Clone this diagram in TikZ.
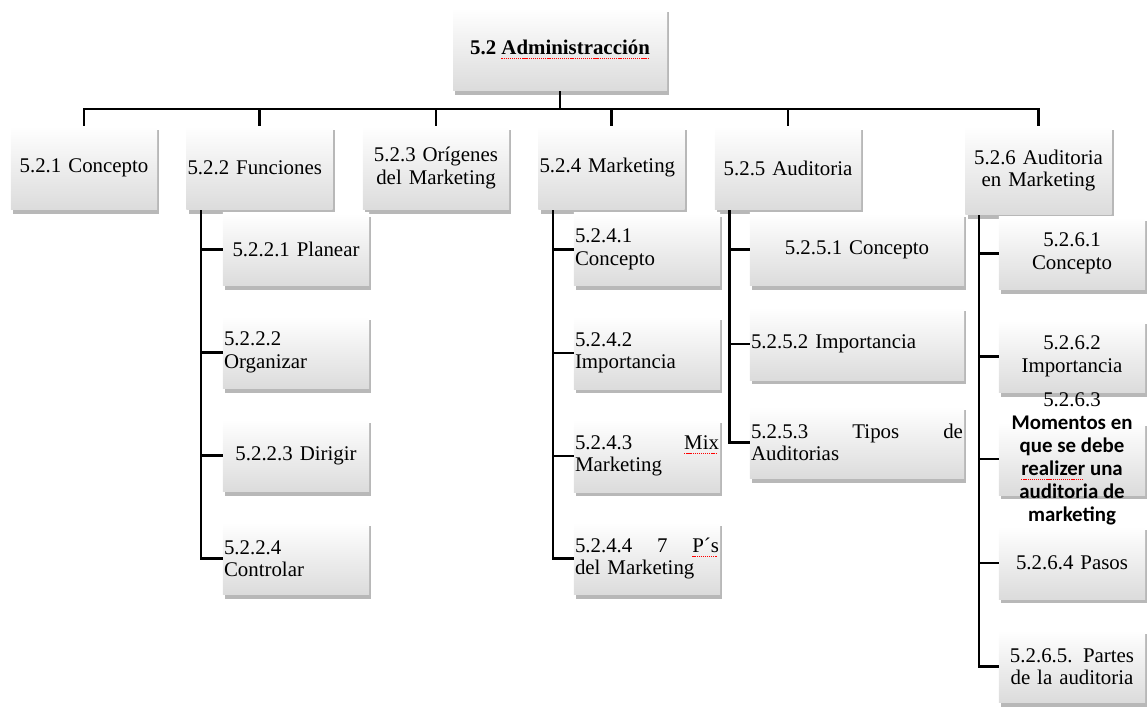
\documentclass[tikz,border=0pt]{standalone}
\usepackage{fontspec}
\setmainfont{Liberation Serif}
\newfontfamily\carlito{Carlito}
\usetikzlibrary{shadows}
\hyphenpenalty=10000
\tolerance=10000

\newcommand{\px}{0.575pt}
\newcommand{\cb}{\carlito\bfseries}
% subrayado rojo del corrector
\newsavebox{\spellbox}
\newcommand{\spell}[1]{\sbox{\spellbox}{#1}\rlap{\color{red}\leaders\hbox{\rule[-0.45ex]{0.7pt}{0.4pt}\kern0.5pt}\hskip\wd\spellbox}\usebox{\spellbox}}

\tikzset{
  caja/.style={inner xsep=0.6pt, inner ysep=0pt,
    top color=white, middle color=white, bottom color=black!14,
    drop shadow={shadow xshift=1.2pt, shadow yshift=-2.2pt, opacity=0.35, fill=black!80},
    font=\fontsize{12}{13}\selectfont},
  raiz/.style={caja, minimum width=214*\px, minimum height=83*\px,
    font=\fontsize{12}{13}\selectfont\bfseries},
  nivel/.style={caja, text width=144*\px, minimum height=84*\px, align=center},
  sub/.style={caja, text width=144*\px, minimum height=73*\px, align=center},
  ancho/.style={text width=212*\px},
  izq/.style={align=left},
  momento/.style={inner sep=0pt, align=center, font=\fontsize{12}{13.2}\selectfont},
  linea/.style={line width=1.5pt}
}

\begin{document}
\begin{tikzpicture}[x=0.575pt, y=-0.575pt]
\useasboundingbox (0,0) rectangle (1147,707);

% raiz
\node[raiz] (raiz) at (560,49.5) {5.2 \spell{Administracción}};

% primer nivel
\node[nivel] (c1) at (84,168) {5.2.1 Concepto};
\node[nivel, izq] (c2) at (259.5,168) {5.2.2 Funciones};
\node[nivel] (c3) at (436,168) {5.2.3 Orígenes\\del Marketing};
\node[nivel, izq] (c4) at (611.5,168) {5.2.4 Marketing};
\node[nivel] (c5) at (788,168) {5.2.5 Auditoria};
\node[nivel, minimum height=89*\px] (c6) at (1038.5,170.5) {5.2.6 Auditoria\\en Marketing};

% Funciones
\node[sub] (c21) at (296,249.5) {5.2.2.1 Planear};
\node[sub, izq] (c22) at (296,352.5) {5.2.2.2\\Organizar};
\node[sub] (c23) at (296,455.5) {5.2.2.3 Dirigir};
\node[sub, izq] (c24) at (296,558.5) {5.2.2.4\\Controlar};

% Marketing
\node[sub, izq] (c41) at (647,249.5) {5.2.4.1\\Concepto};
\node[sub, izq] (c42) at (647,353) {5.2.4.2\\Importancia};
\node[sub, izq] (c43) at (647,456) {5.2.4.3 \hfill \spell{Mix}\\Marketing};
\node[sub, izq] (c44) at (647,558.5) {5.2.4.4 \hfill 7 \hfill \spell{P´s}\\del Marketing};

% Auditoria
\node[sub, ancho] (c51) at (857,249.5) {5.2.5.1 Concepto};
\node[sub, ancho, izq] (c52) at (857,344) {5.2.5.2 Importancia};
\node[sub, ancho, izq] (c53) at (857,442.5) {5.2.5.3 \hfill Tipos \hfill de\\Auditorias};

% Auditoria en Marketing
\node[sub] (c61) at (1072,253.5) {5.2.6.1\\Concepto};
\node[sub] (c62) at (1072,356.5) {5.2.6.2\\Importancia};
\node[sub] (c63) at (1072,459) {};
\node[sub] (c64) at (1072,563) {5.2.6.4 Pasos};
\node[sub] (c65) at (1072,666.5) {5.2.6.5. Partes\\de la auditoria};
\node[momento] (c63t) at (c63) {5.2.6.3\\\cb Momentos en\\\cb que se debe\\\cb\spell{realizer} una\\\cb auditoria de\\\cb marketing};

% lineas
\coordinate (bus) at (560,109);
\foreach \n in {c1,c2,c3,c4,c5,c6}
  \draw[linea] (raiz.south) -- (bus) -| (\n.north);
\foreach \h in {c21,c22,c23,c24}
  \draw[linea] ([xshift=15*\px]c2.south west) |- (\h.west);
\foreach \h in {c41,c42,c43,c44}
  \draw[linea] ([xshift=15*\px]c4.south west) |- (\h.west);
\foreach \h in {c51,c52,c53}
  \draw[linea] ([xshift=15*\px]c5.south west) |- (\h.west);
\foreach \h in {c61,c62,c63,c64,c65}
  \draw[linea] ([xshift=14*\px]c6.south west) |- (\h.west);
\end{tikzpicture}
\end{document}
